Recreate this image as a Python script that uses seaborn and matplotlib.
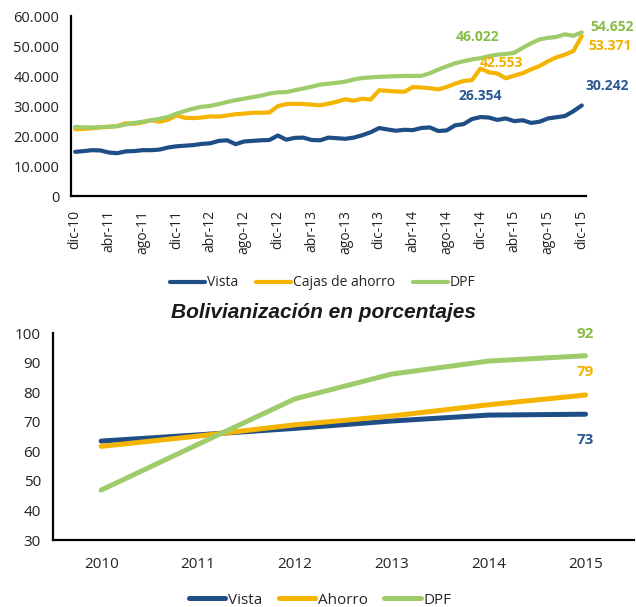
import numpy as np
import pandas as pd
import matplotlib
matplotlib.use("Agg")
import matplotlib.pyplot as plt
from matplotlib.ticker import FuncFormatter, FixedLocator
import seaborn as sns

# ---------------- data ----------------
month_labels = ['dic-10', 'abr-11', 'ago-11', 'dic-11', 'abr-12', 'ago-12', 'dic-12', 'abr-13',
                'ago-13', 'dic-13', 'abr-14', 'ago-14', 'dic-14', 'abr-15', 'ago-15', 'dic-15']

vista = [14740, 15000, 15300, 15200, 14500, 14300, 14900, 15000, 15300, 15300,
         15500, 16200, 16600, 16800, 17000, 17400, 17600, 18400, 18600, 17300,
         18200, 18400, 18600, 18700, 20200, 18800, 19400, 19500, 18700, 18600,
         19500, 19300, 19100, 19500, 20300, 21300, 22700, 22200, 21800, 22100,
         22000, 22700, 22900, 21700, 21900, 23600, 24000, 25700, 26354, 26200,
         25400, 25900, 25000, 25300, 24400, 24800, 25900, 26300, 26700, 28300,
         30242]

cajas = [22300, 22400, 22600, 22900, 23100, 23400, 24300, 24100, 24600, 25300,
         24800, 25500, 26900, 26100, 26000, 26200, 26600, 26500, 26900, 27300,
         27500, 27800, 27800, 27900, 30000, 30700, 30800, 30700, 30500, 30300,
         30800, 31500, 32300, 31800, 32500, 32200, 35300, 35100, 34900, 34800,
         36400, 36200, 36000, 35600, 36400, 37500, 38400, 38700, 42553, 41300,
         40900, 39300, 40200, 41000, 42300, 43400, 45000, 46300, 47200, 48400,
         53371]

dpf = [23100, 22900, 22900, 23000, 23100, 23300, 23900, 24400, 24800, 25300,
       25800, 26400, 27500, 28400, 29200, 29800, 30100, 30700, 31400, 32000,
       32500, 33000, 33500, 34200, 34600, 34700, 35300, 35900, 36500, 37200,
       37500, 37800, 38200, 38900, 39400, 39600, 39800, 39900, 40000, 40100,
       40100, 40100, 41000, 42200, 43300, 44300, 45000, 45600, 46022, 46700,
       47200, 47400, 47800, 49500, 51000, 52300, 52800, 53100, 54000, 53500,
       54652]

years = ['2010', '2011', '2012', '2013', '2014', '2015']
pct_vista = [63.5, 65.6, 67.8, 70.3, 72.3, 72.6]
pct_ahorro = [61.7, 65.2, 69.0, 72.0, 75.8, 79.1]
pct_dpf = [46.9, 62.4, 77.8, 86.2, 90.6, 92.4]

# ---------------- style ----------------
sns.set_theme(style="white")
plt.rcParams['font.family'] = ['Open Sans', 'DejaVu Sans']
plt.rcParams['axes.linewidth'] = 1.6

BLUE = '#1F4E87'
YEL = '#F4B400'
GRN = '#9FCC6B'
BLUE_T = '#2A5891'
YEL_T = '#F2B100'
GRN_T = '#86BD45'

fig = plt.figure(figsize=(6.36, 6.07), dpi=100)

# ---------------- top chart ----------------
n = len(vista)
idx = list(range(n))
top_df = pd.DataFrame({
    'i': idx * 3,
    'valor': vista + cajas + dpf,
    'serie': ['Vista'] * n + ['Cajas de ahorro'] * n + ['DPF'] * n,
})
ax1 = fig.add_axes([71 / 636, 1 - 196 / 607, 515 / 636, 179.7 / 607])
sns.lineplot(data=top_df, x='i', y='valor', hue='serie', ax=ax1,
             palette={'Vista': BLUE, 'Cajas de ahorro': YEL, 'DPF': GRN},
             linewidth=3.0, sort=False)
ax1.set_xlim(-0.5, n - 0.5)
ax1.set_ylim(0, 60000)
ax1.set_yticks(np.arange(0, 60001, 10000))
ax1.yaxis.set_major_formatter(FuncFormatter(lambda v, p: f"{int(v):,}".replace(',', '.')))
ax1.set_xticks(list(range(0, n, 4)))
ax1.set_xticklabels(month_labels, rotation=90)
ax1.xaxis.set_minor_locator(FixedLocator([k - 0.5 for k in range(0, n, 4)]))
ax1.tick_params(axis='x', which='major', length=0, labelsize=10, pad=10, labelcolor='#222222')
ax1.tick_params(axis='x', which='minor', length=5, width=1.6, direction='out', color='black')
ax1.tick_params(axis='y', length=5, width=1.6, direction='out', labelsize=10.5,
                labelcolor='#222222', color='black')
ax1.set_xlabel('')
ax1.set_ylabel('')
for s in ['top', 'right']:
    ax1.spines[s].set_visible(False)
for s in ['left', 'bottom']:
    ax1.spines[s].set_color('black')

h, l = ax1.get_legend_handles_labels()
ax1.legend(h, l, loc='center', bbox_to_anchor=(323 / 636, 1 - 283 / 607),
           bbox_transform=fig.transFigure, ncol=3, frameon=False, fontsize=10,
           handlelength=2.5, handletextpad=0.15, columnspacing=1.3)

lab_kw = dict(textcoords='offset pixels', ha='center', va='center',
              fontweight='bold', fontsize=10)
ax1.annotate(f"{dpf[48]:,}".replace(',', '.'), (48, dpf[48]), xytext=(-3, 21), color=GRN_T, **lab_kw)
ax1.annotate(f"{cajas[48]:,}".replace(',', '.'), (48, cajas[48]), xytext=(21, 6), color=YEL_T, **lab_kw)
ax1.annotate(f"{vista[48]:,}".replace(',', '.'), (48, vista[48]), xytext=(0, 21), color=BLUE_T, **lab_kw)
ax1.annotate(f"{vista[-1]:,}".replace(',', '.'), (n - 1, vista[-1]), xytext=(25, 19), color=BLUE_T, **lab_kw)
ax1.annotate(f"{dpf[-1]:,}".replace(',', '.'), (n - 1, dpf[-1]), xytext=(30, 5), color=GRN_T, **lab_kw)
ax1.annotate(f"{cajas[-1]:,}".replace(',', '.'), (n - 1, cajas[-1]), xytext=(28, -10), color=YEL_T, **lab_kw)

# ---------------- bottom chart ----------------
m = len(years)
bot_df = pd.DataFrame({
    'j': list(range(m)) * 3,
    'pct': pct_vista + pct_ahorro + pct_dpf,
    'serie': ['Vista'] * m + ['Ahorro'] * m + ['DPF'] * m,
})
ax2 = fig.add_axes([52.7 / 636, 1 - 540 / 607, 581.3 / 636, 206.7 / 607])
sns.lineplot(data=bot_df, x='j', y='pct', hue='serie', ax=ax2,
             palette={'Vista': BLUE, 'Ahorro': YEL, 'DPF': GRN},
             linewidth=3.6, sort=False)
ax2.set_xlim(-0.5, m - 0.5)
ax2.set_ylim(30, 100)
ax2.set_yticks(np.arange(30, 101, 10))
ax2.set_xticks(list(range(m)))
ax2.set_xticklabels(years)
ax2.xaxis.set_minor_locator(FixedLocator([k - 0.5 for k in range(m + 1)]))
ax2.tick_params(axis='x', which='major', length=0, labelsize=11, pad=12, labelcolor='#222222')
ax2.tick_params(axis='x', which='minor', length=6, width=1.6, direction='out', color='black')
ax2.tick_params(axis='y', length=5, width=1.6, direction='out', labelsize=11,
                labelcolor='#222222', color='black')
ax2.set_xlabel('')
ax2.set_ylabel('')
for s in ['top', 'right']:
    ax2.spines[s].set_visible(False)
for s in ['left', 'bottom']:
    ax2.spines[s].set_color('black')

h2, l2 = ax2.get_legend_handles_labels()
ax2.legend(h2, l2, loc='center', bbox_to_anchor=(320 / 636, 1 - 600 / 607),
           bbox_transform=fig.transFigure, ncol=3, frameon=False, fontsize=11,
           handlelength=2.4, handletextpad=0.15, columnspacing=1.1)

lab2 = dict(textcoords='offset pixels', ha='center', va='center',
            fontweight='bold', fontsize=11)
ax2.annotate(f"{round(pct_dpf[-1])}", (m - 1, pct_dpf[-1]), xytext=(0, 22), color=GRN_T, **lab2)
ax2.annotate(f"{round(pct_ahorro[-1])}", (m - 1, pct_ahorro[-1]), xytext=(0, 23), color=YEL_T, **lab2)
ax2.annotate(f"{round(pct_vista[-1])}", (m - 1, pct_vista[-1]), xytext=(0, -26), color=BLUE_T, **lab2)

fig.text(323 / 636, 1 - 312 / 607, 'Bolivianización en porcentajes',
         ha='center', va='center', fontsize=15, fontweight='bold', fontstyle='italic',
         family=['Liberation Sans', 'DejaVu Sans'], color='#1a1a1a')

fig.savefig('out.png', dpi=100)
